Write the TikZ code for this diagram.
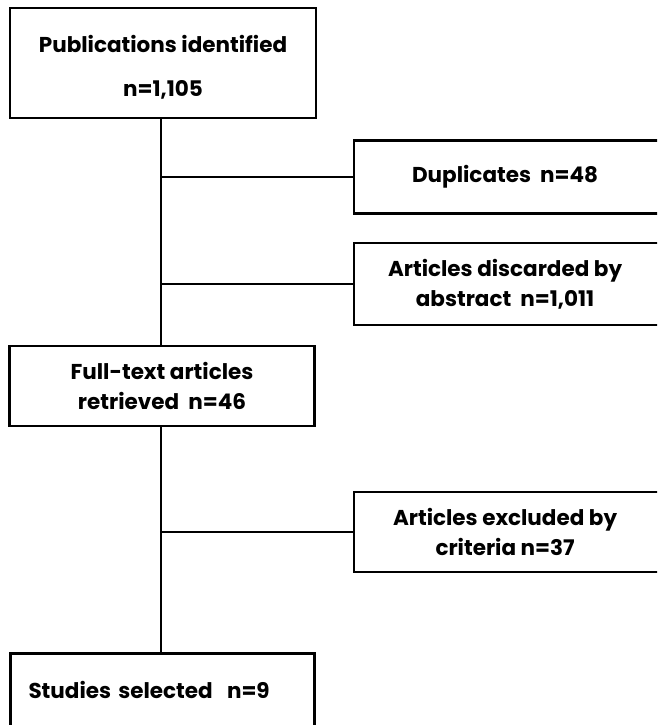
\documentclass[tikz,border=0pt]{standalone}
\usepackage{fontspec}
\setmainfont{Poppins}
\begin{document}
\begin{tikzpicture}[x=1pt,y=-1pt,
  box/.style={draw=black,line width=2.2pt,fill=white,inner sep=0pt,font=\bfseries\fontsize{21.5}{30}\selectfont,align=center},
  conn/.style={draw=black,line width=2.2pt}]
\useasboundingbox (0,0) rectangle (657,725);
\clip (0,0) rectangle (657,725);
% boxes
\node[box,minimum width=306pt,minimum height=110pt] (pub) at (163,63) {};
\node[font=\bfseries\fontsize{21.5}{44}\selectfont,align=center,inner sep=0pt] (pubtxt) at (163,67) {Publications identified\\n=1,105};
\node[box,minimum width=330pt,minimum height=73pt,anchor=west] (dup) at (353,177) {\hspace*{-28pt}Duplicates\ \ n=48};
\node[box,minimum width=330pt,minimum height=82pt,anchor=west] (abs) at (353,284) {\hspace*{-28pt}Articles discarded by\\\hspace*{-28pt}abstract\ \ n=1,011};
\node[box,minimum width=305pt,minimum height=80pt] (full) at (162,386) {Full-text articles\\retrieved\ \ n=46};
\node[box,minimum width=330pt,minimum height=80pt,anchor=west] (crit) at (353,532) {\hspace*{-28pt}Articles excluded by\\\hspace*{-28pt}criteria n=37};
\node[box,line width=3pt,minimum width=304pt,minimum height=73pt,anchor=north west,text width=284pt,align=left] (sel) at (9,652) {\hspace*{8pt}Studies selected\ \ n=9\par\vspace*{5pt}};
% connectors
\draw[conn] (161,0 |- pub.south) -- (161,0 |- full.north);
\draw[conn] (161,0 |- full.south) -- (161,0 |- sel.north);
\draw[conn] (161,0 |- dup.west) -- (dup.west);
\draw[conn] (161,0 |- abs.west) -- (abs.west);
\draw[conn] (161,0 |- crit.west) -- (crit.west);
\end{tikzpicture}
\end{document}
